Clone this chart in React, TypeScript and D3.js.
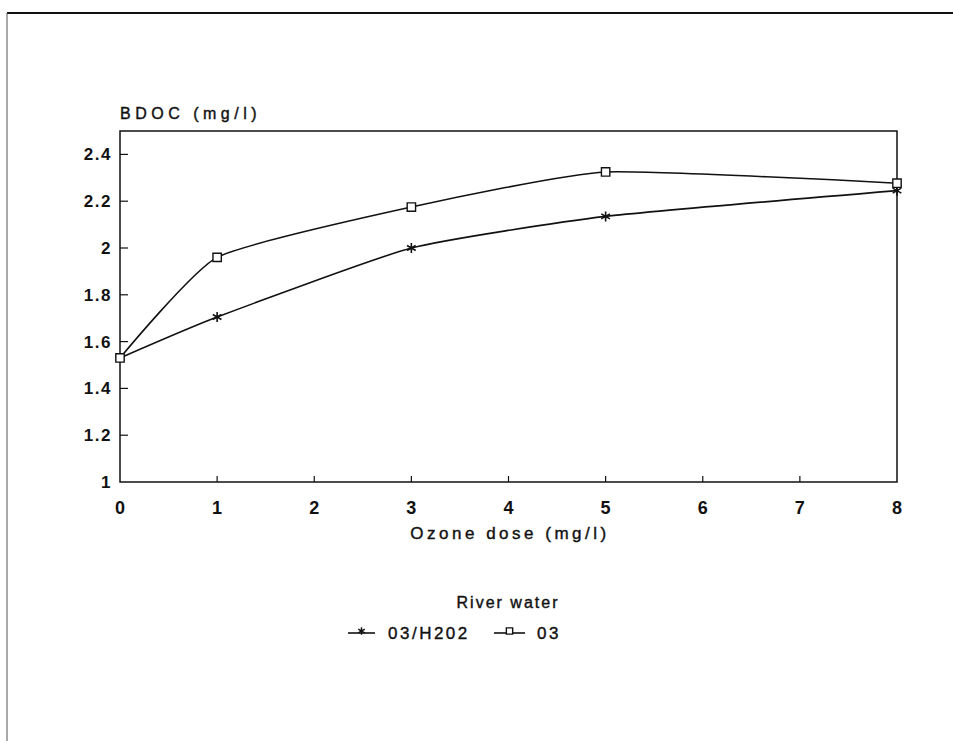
import { useEffect, useRef } from 'react'
import * as d3 from 'd3'

// Ozone dose (mg/l)
const doses = [0, 1, 3, 5, 8]
// BDOC (mg/l) per series
const o3h2o2 = [1.53, 1.705, 2.0, 2.135, 2.245]
const o3 = [1.53, 1.96, 2.175, 2.325, 2.277]
const seriesNames = ['03/H202', '03']
const xTicks = [0, 1, 2, 3, 4, 5, 6, 7, 8]
const yTicks = [1, 1.2, 1.4, 1.6, 1.8, 2, 2.2, 2.4]

const W = 953
const H = 741
const FONT = '"Liberation Sans", Arial, sans-serif'

export default function App() {
  const svgRef = useRef<SVGSVGElement>(null)

  useEffect(() => {
    if (!svgRef.current) return
    const svg = d3.select(svgRef.current)
    svg.selectAll('*').remove()

    // page frame (scanned edges)
    svg.append('line').attr('x1', 7).attr('x2', W).attr('y1', 13).attr('y2', 13)
      .attr('stroke', '#111').attr('stroke-width', 2)
    svg.append('line').attr('x1', 7).attr('x2', 7).attr('y1', 13).attr('y2', H)
      .attr('stroke', '#555').attr('stroke-width', 1)

    const x = d3.scaleLinear().domain([0, 8]).range([120, 897])
    const y = d3.scaleLinear().domain([1, 2.5]).range([482, 131])

    // plot box
    svg.append('rect')
      .attr('x', x(0)).attr('y', y(2.5))
      .attr('width', x(8) - x(0)).attr('height', y(1) - y(2.5))
      .attr('fill', 'none').attr('stroke', '#111').attr('stroke-width', 1.5)

    // y ticks (inward)
    svg.append('g').selectAll('line').data(yTicks.slice(1)).join('line')
      .attr('x1', x(0)).attr('x2', x(0) + 8)
      .attr('y1', (d) => y(d)).attr('y2', (d) => y(d))
      .attr('stroke', '#111').attr('stroke-width', 1.2)
    svg.append('g').selectAll('text').data(yTicks).join('text')
      .attr('x', x(0) - 8).attr('y', (d) => y(d))
      .attr('dy', '0.35em').attr('text-anchor', 'end')
      .attr('font-family', FONT).attr('font-size', 17).attr('font-weight', 'bold')
      .attr('letter-spacing', 1.5)
      .attr('fill', '#111')
      .text((d) => d3.format('~g')(d))

    // x ticks (inward)
    svg.append('g').selectAll('line').data(xTicks.slice(1, -1)).join('line')
      .attr('x1', (d) => x(d)).attr('x2', (d) => x(d))
      .attr('y1', y(1)).attr('y2', y(1) - 6)
      .attr('stroke', '#111').attr('stroke-width', 1.2)
    svg.append('g').selectAll('text').data(xTicks).join('text')
      .attr('x', (d) => x(d)).attr('y', 508)
      .attr('dy', '0.35em').attr('text-anchor', 'middle')
      .attr('font-family', FONT).attr('font-size', 18).attr('font-weight', 'bold')
      .attr('fill', '#111')
      .text((d) => String(d))

    // titles
    svg.append('text').attr('x', 120).attr('y', 113).attr('dy', '0.35em')
      .attr('font-family', FONT).attr('font-size', 16).attr('fill', '#111')
      .attr('stroke', '#111').attr('stroke-width', 0.4).attr('letter-spacing', 4.5)
      .text('BDOC (mg/l)')
    svg.append('text').attr('x', 510).attr('y', 533).attr('dy', '0.35em')
      .attr('text-anchor', 'middle')
      .attr('font-family', FONT).attr('font-size', 17).attr('fill', '#111')
      .attr('stroke', '#111').attr('stroke-width', 0.4).attr('letter-spacing', 3.5)
      .text('Ozone dose (mg/l)')

    const line = d3.line<number>()
      .x((_, i) => x(doses[i]))
      .y((d) => y(d))
      .curve(d3.curveCardinal.tension(0.5))

    const star = d3.symbol().type(d3.symbolAsterisk).size(70)
    const square = d3.symbol().type(d3.symbolSquare).size(70)

    // series lines
    ;[o3h2o2, o3].forEach((vals) => {
      svg.append('path').attr('d', line(vals) || '')
        .attr('fill', 'none').attr('stroke', '#111').attr('stroke-width', 1.6)
    })

    // markers
    svg.append('g').selectAll('path').data(o3h2o2).join('path')
      .attr('transform', (d, i) => `translate(${x(doses[i])},${y(d)})`)
      .attr('d', star() || '')
      .attr('fill', 'none').attr('stroke', '#111').attr('stroke-width', 1.6)
    svg.append('g').selectAll('path').data(o3).join('path')
      .attr('transform', (d, i) => `translate(${x(doses[i])},${y(d)})`)
      .attr('d', square() || '')
      .attr('fill', '#fff').attr('stroke', '#111').attr('stroke-width', 1.4)

    // legend
    svg.append('text').attr('x', 508).attr('y', 602).attr('dy', '0.35em')
      .attr('text-anchor', 'middle')
      .attr('font-family', FONT).attr('font-size', 16).attr('fill', '#111')
      .attr('stroke', '#111').attr('stroke-width', 0.4).attr('letter-spacing', 2)
      .text('River water')

    const legendItems = [
      { name: seriesNames[0], x0: 348, x1: 375, tx: 388, sym: star, fill: 'none' },
      { name: seriesNames[1], x0: 494, x1: 525, tx: 537, sym: square, fill: '#fff' },
    ]
    const lg = svg.append('g').selectAll('g').data(legendItems).join('g')
    lg.append('line')
      .attr('x1', (d) => d.x0).attr('x2', (d) => d.x1)
      .attr('y1', 633).attr('y2', 633)
      .attr('stroke', '#111').attr('stroke-width', 1.6)
    lg.append('path')
      .attr('transform', (d) => `translate(${(d.x0 + d.x1) / 2},631)`)
      .attr('d', (d) => d.sym.size(40)() || '')
      .attr('fill', (d) => d.fill).attr('stroke', '#111').attr('stroke-width', 1.4)
    lg.append('text')
      .attr('x', (d) => d.tx).attr('y', 633).attr('dy', '0.35em')
      .attr('font-family', FONT).attr('font-size', 17).attr('fill', '#111')
      .attr('stroke', '#111').attr('stroke-width', 0.4).attr('letter-spacing', 2.5)
      .text((d) => d.name)
  }, [])

  return (
    <svg
      ref={svgRef}
      width={W}
      height={H}
      style={{ position: 'absolute', left: 0, top: 0, background: '#fff' }}
    />
  )
}
